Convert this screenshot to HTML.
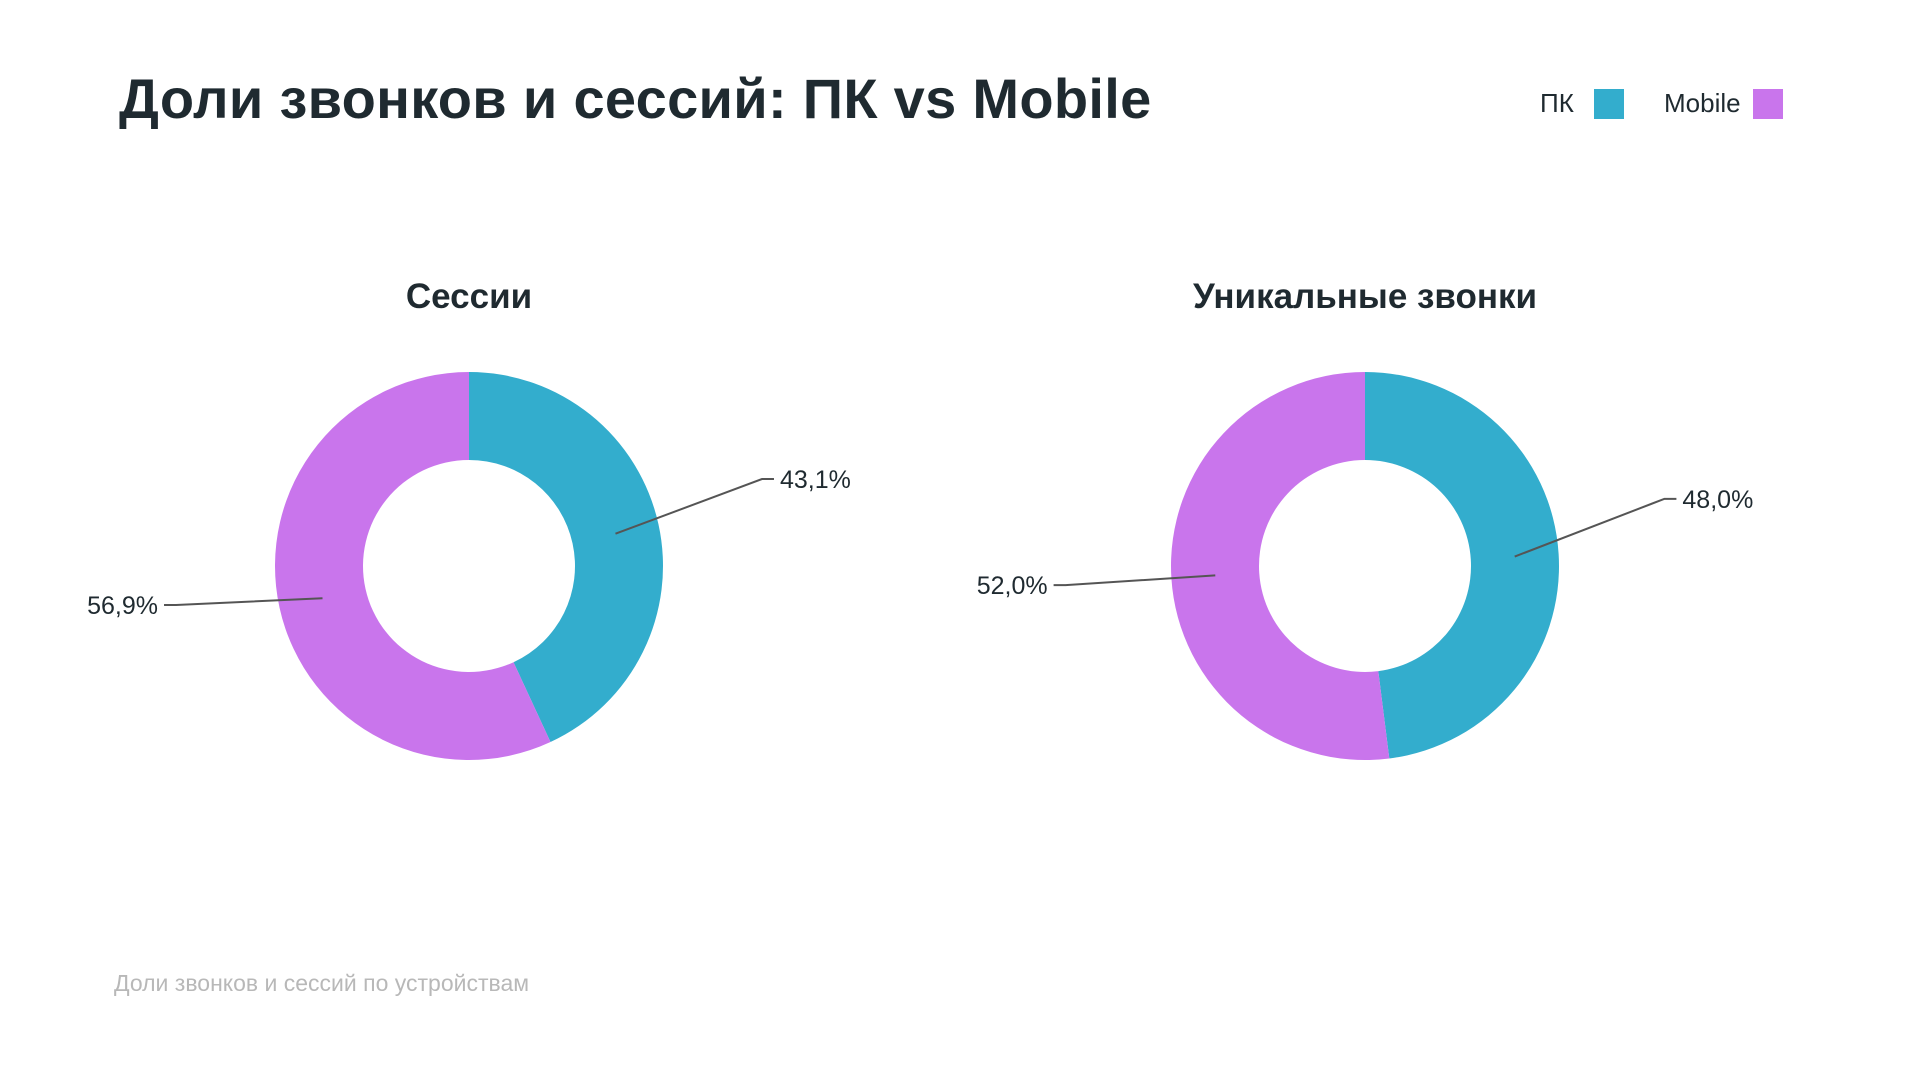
<!DOCTYPE html>
<html><head><meta charset="utf-8">
<style>
html,body{margin:0;padding:0;background:#fff;}
body{width:1920px;height:1080px;position:relative;overflow:hidden;font-family:"Liberation Sans","Noto Sans CJK SC",sans-serif;color:#1f2a30;}
#title{position:absolute;left:119px;top:66px;font-size:56px;font-weight:bold;letter-spacing:0.3px;white-space:nowrap;}
.legend{position:absolute;top:88px;font-size:26px;color:#1f2a30;display:flex;align-items:center;}
.sw{display:inline-block;width:30px;height:30px;margin-left:20px;}
#footer{position:absolute;left:114px;top:970px;font-size:23px;color:#b8b8b8;}
svg{position:absolute;left:0;top:0;}
</style></head>
<body>
<div id="title">Доли звонков и сессий: ПК vs Mobile</div>
<div class="legend" style="left:1540px"><span>ПК</span><span class="sw" style="background:#33adcd"></span></div>
<div class="legend" style="left:1664px"><span>Mobile</span><span class="sw" style="background:#c975ec;margin-left:12px"></span></div>
<div id="footer">Доли звонков и сессий по устройствам</div>
<svg id="chart" width="1920" height="1080"></svg>
<script>
const chartTitles = ["Сессии", "Уникальные звонки"];
const pkValues = [43.1, 48.0];
const mobileValues = [56.9, 52.0];
const colors = ["#33adcd", "#c975ec"];
const centersX = [469, 1365];
const cy = 566, rOut = 194, rIn = 106, rMid = 150, rLabX = 300;
const NS = "http://www.w3.org/2000/svg";
const svg = document.getElementById("chart");
function pt(cx, r, deg){const a = deg*Math.PI/180;return [cx + r*Math.sin(a), cy - r*Math.cos(a)];}
function fmt(v){return v.toFixed(1).replace(".", ",") + "%";}
function mk(tag, attrs){const e = document.createElementNS(NS, tag);for (const k in attrs) e.setAttribute(k, attrs[k]);svg.appendChild(e);return e;}
chartTitles.forEach((t, i) => {
  const cx = centersX[i];
  const tt = mk("text", {x: cx, y: 308, "text-anchor": "middle", "font-size": 35, "font-weight": "bold", fill: "#1f2a30"});
  tt.textContent = t;
  
  
  const vals = [pkValues[i], mobileValues[i]];
  const total = vals[0] + vals[1];
  let start = 0;
  vals.forEach((v, j) => {
    const sweep = v/total*360, end = start + sweep;
    const large = sweep > 180 ? 1 : 0;
    const p1 = pt(cx, rOut, start), p2 = pt(cx, rOut, end), p3 = pt(cx, rIn, end), p4 = pt(cx, rIn, start);
    const d = `M${p1[0]},${p1[1]} A${rOut},${rOut} 0 ${large} 1 ${p2[0]},${p2[1]} L${p3[0]},${p3[1]} A${rIn},${rIn} 0 ${large} 0 ${p4[0]},${p4[1]} Z`;
    const s = mk("path", {d: d, fill: colors[j]});
    
    
    const mid = start + sweep/2;
    const a = pt(cx, rMid, mid);
    const dx = Math.sin(mid*Math.PI/180), dy = -Math.cos(mid*Math.PI/180);
    const right = dx >= 0;
    const bx = cx + dx*rLabX;
    const by = cy + (right ? -59 : 11) + 130*dy;
    const ex = bx + (right ? 12 : -12);
    const ln = mk("polyline", {points: `${a[0]},${a[1]} ${bx},${by} ${ex},${by}`, fill: "none", stroke: "#555", "stroke-width": 2});
    
    
    const lt = mk("text", {x: ex + (right ? 6 : -6), y: by + 9, "text-anchor": right ? "start" : "end", "font-size": 25, fill: "#1f2a30"});
    lt.textContent = fmt(v);
    
    
    start = end;
  });
});
</script>
</body></html>
